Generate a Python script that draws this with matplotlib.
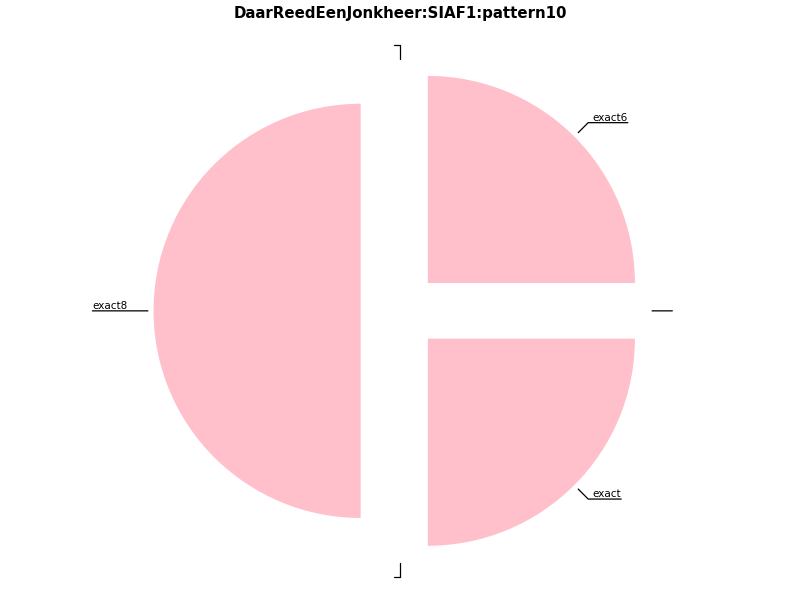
import numpy as np
import matplotlib
matplotlib.use('Agg')
import matplotlib.pyplot as plt

labels = ['exact6', '', 'exact8', '', 'exact', '']
values = [25, 0, 50, 0, 25, 0]
explode = [0.19] * len(values)

fig = plt.figure(figsize=(8, 6), dpi=100)
ax = fig.add_axes([0.1, 0.0504, 0.8, 0.863])

wedges, _ = ax.pie(values, explode=explode, colors=['pink'] * len(values),
                   startangle=0, counterclock=True)
ax.set_xlim(-1.25, 1.25)
ax.set_ylim(-1.25, 1.25)
ax.set_aspect('equal')

for w, lab in zip(wedges, labels):
    ang = (w.theta2 - w.theta1) / 2. + w.theta1
    x = np.cos(np.deg2rad(ang))
    y = np.sin(np.deg2rad(ang))
    if abs(x) < 0.01:
        xt = -0.028
    else:
        xt = 1.315 * x
    if x >= 0:
        ha, rel = 'left', (1, 0)
    else:
        ha, rel = 'right', (0, 0)
    if abs(y) < 0.01:
        cs = "arc3"  # straight horizontal line
    else:
        cs = f"angle,angleA=0,angleB={ang}"
    ax.annotate(lab, xy=(1.217 * x, 1.217 * y), xytext=(xt, 1.285 * y),
                ha=ha, va='bottom', fontsize=7.5,
                arrowprops=dict(arrowstyle='-', color='black', lw=0.9,
                                shrinkA=0, shrinkB=0, patchA=None,
                                relpos=rel, connectionstyle=cs))

fig.text(0.5, 0.978, 'DaarReedEenJonkheer:SIAF1:pattern10', ha='center',
         va='center', fontsize=10.8, fontweight='bold')

fig.savefig('out.png', dpi=100)
